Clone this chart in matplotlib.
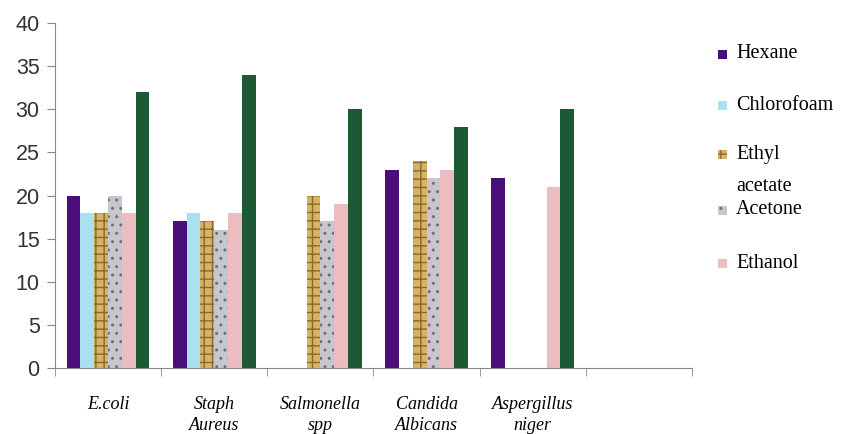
import numpy as np
import matplotlib.pyplot as plt
from matplotlib.patches import Rectangle

categories = ["E.coli", "Staph\nAureus", "Salmonella\nspp", "Candida\nAlbicans", "Aspergillus\nniger", ""]
series = ["Hexane", "Chlorofoam", "Ethyl", "Acetone", "Ethanol"]

hexane = [20, 17, 0, 23, 22, 0]
chloroform = [18, 18, 0, 0, 0, 0]
ethyl_acetate = [18, 17, 20, 24, 0, 0]
acetone = [20, 16, 17, 22, 0, 0]
ethanol = [18, 18, 19, 23, 21, 0]
standard = [32, 34, 30, 28, 30, 0]

values = [hexane, chloroform, ethyl_acetate, acetone, ethanol, standard]
colors = ["#4a0d7a", "#a9e2ee", "#d8b265", "#c6c6cc", "#ecbcc0", "#1d5a34"]
hatches = [None, None, "++", "..", None, None]
hatch_colors = ["#4a0d7a", "#a9e2ee", "#8a6a2a", "#707078", "#ecbcc0", "#1d5a34"]
serif = ["Liberation Serif", "DejaVu Serif"]

fig = plt.figure(figsize=(8.51, 4.34), dpi=100)
ax = fig.add_axes([55 / 851, 1 - 368 / 434, (692 - 55) / 851, (368 - 23) / 434])

x = np.arange(len(categories))
w = 0.13
for i, vals in enumerate(values):
    ax.bar(x + (i - 2.5) * w, vals, width=w, color=colors[i], hatch=hatches[i],
           edgecolor=hatch_colors[i], linewidth=0)

ax.set_xlim(-0.5, len(categories) - 0.5)
ax.set_ylim(0, 40)
ax.set_yticks(range(0, 41, 5))
ax.set_xticks(x)
ax.set_xticklabels(categories, family=serif, style="italic", fontsize=13,
                   linespacing=1.35)
ax.set_xticks(np.arange(-0.5, len(categories)), minor=True)
ax.tick_params(axis="x", which="major", length=0, pad=20)
ax.tick_params(axis="x", which="minor", length=6, color="#888888")
ax.tick_params(axis="y", length=6, color="#888888", labelsize=15.5, pad=5)
for lab in ax.get_yticklabels():
    lab.set_family(["Liberation Sans", "DejaVu Sans"])
    lab.set_color("#333333")
for s in ["top", "right"]:
    ax.spines[s].set_visible(False)
for s in ["left", "bottom"]:
    ax.spines[s].set_color("#888888")

# legend, placed by hand (pixel rows from the reference)
leg_rows = [54, 105, 154, 210, 263]
for i, row in enumerate(leg_rows):
    yf = 1 - row / 434
    fig.add_artist(Rectangle((718 / 851, yf - 4.5 / 434), 9 / 851, 9 / 434,
                             transform=fig.transFigure, facecolor=colors[i],
                             hatch=hatches[i], edgecolor=hatch_colors[i], linewidth=0))
    fig.text(736 / 851, yf, series[i], family=serif, fontsize=14.5, va="center", ha="left")
fig.text(736 / 851, 1 - 187 / 434, "acetate", family=serif, fontsize=14.5, va="center", ha="left")

fig.savefig("out.png", dpi=100)
